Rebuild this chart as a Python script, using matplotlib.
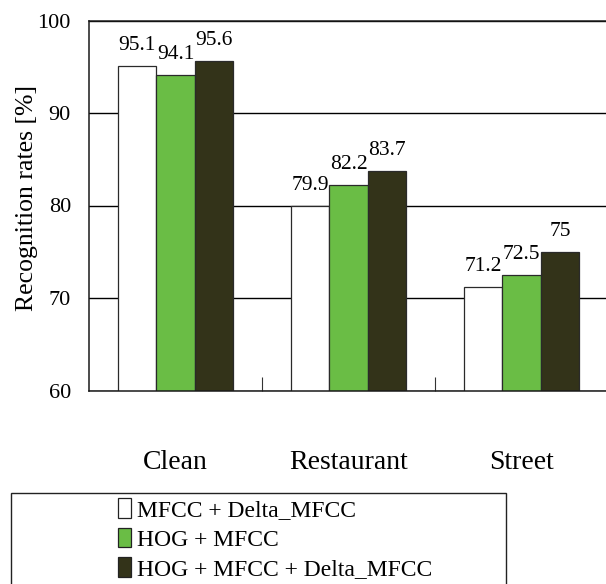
import matplotlib
matplotlib.use('Agg')
import matplotlib.pyplot as plt
from matplotlib.patches import Rectangle, Patch
import numpy as np

plt.rcParams['font.family'] = ['Liberation Serif', 'DejaVu Serif']

categories = ['Clean', 'Restaurant', 'Street']
series_names = ['MFCC + Delta_MFCC', 'HOG + MFCC', 'HOG + MFCC + Delta_MFCC']
mfcc_delta = [95.1, 79.9, 71.2]
hog_mfcc = [94.1, 82.2, 72.5]
hog_mfcc_delta = [95.6, 83.7, 75]
y_ticks = [60, 70, 80, 90, 100]
y_label = 'Recognition rates [%]'

series = [mfcc_delta, hog_mfcc, hog_mfcc_delta]
colors = ['white', '#6ABD45', '#333319']

W, H = 606, 584
fig = plt.figure(figsize=(W / 100, H / 100), dpi=100)
ax = fig.add_axes([89 / W, 1 - 390.5 / H, 519 / W, 370 / H])

x = np.arange(len(categories))
w = 0.2225
for k, (vals, c) in enumerate(zip(series, colors)):
    bars = ax.bar(x + (k - 1) * w, vals, w, color=c, edgecolor='#2a2a2a',
                  linewidth=0.9, zorder=2)
    for b, v in zip(bars, vals):
        ax.annotate(f"{v:g}", (b.get_x() + b.get_width() / 2, v),
                    xytext=(0, 11.5), textcoords='offset points',
                    ha='center', va='baseline', fontsize=15.5)

ax.set_xlim(-0.5, 2.5)
ax.set_ylim(60, 100)
ax.set_yticks(y_ticks)
ax.tick_params(axis='y', length=0, pad=13, labelsize=16)
ax.set_xticks(x, categories)
ax.tick_params(axis='x', which='major', length=0, pad=43, labelsize=20)
ax.set_xticks([0.5, 1.5], minor=True)
ax.tick_params(axis='x', which='minor', direction='in', length=10,
               width=0.8, color='#333333')
ax.yaxis.grid(True, color='black', linewidth=1.0)
ax.set_axisbelow(True)
ax.spines['right'].set_visible(False)
for s in ['left', 'top', 'bottom']:
    ax.spines[s].set_linewidth(1.1)
    ax.spines[s].set_color('#1a1a1a')

ax.set_ylabel(y_label, fontsize=18.5)
ax.yaxis.set_label_coords(-0.098, 0.52)

handles = [Patch(facecolor=c, edgecolor='#222222', linewidth=0.9) for c in colors]
fig.legend(handles, series_names, loc='upper left',
           bbox_to_anchor=(118 / W, 1 - 498 / H), frameon=False, fontsize=17,
           handlelength=0.57, handleheight=0.9, handletextpad=0.25,
           labelspacing=0.28, borderpad=0, borderaxespad=0)
fig.add_artist(Rectangle((11 / W, -0.05), (506 - 11) / W, (1 - 493 / H) + 0.05,
                         transform=fig.transFigure, fill=False,
                         edgecolor='#222222', linewidth=1.0))

fig.savefig('out.png', dpi=100)
